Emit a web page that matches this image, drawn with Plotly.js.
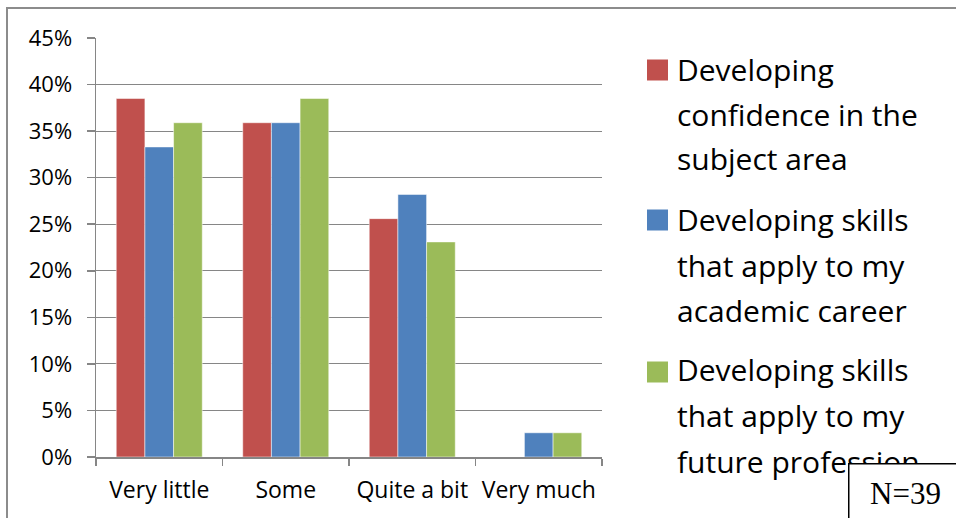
<!DOCTYPE html>
<html>
<head>
<meta charset="utf-8">
<script src="https://cdn.plot.ly/plotly-3.0.1.min.js"></script>
<style>
html,body{margin:0;padding:0;background:#fff;}
#chart{width:956px;height:518px;}
</style>
</head>
<body>
<div id="chart"></div>
<script>
// Data (N=39)
const categories = ["Very little", "Some", "Quite a bit", "Very much"];
const seriesNames = [
  ["Developing", "confidence in the", "subject area"],
  ["Developing skills", "that apply to my", "academic career"],
  ["Developing skills", "that apply to my", "future profession"]
];
const confidence = [0.385, 0.359, 0.256, 0];
const academic = [0.333, 0.359, 0.282, 0.026];
const profession = [0.359, 0.385, 0.231, 0.026];
const yTickVals = [0, 0.05, 0.10, 0.15, 0.20, 0.25, 0.30, 0.35, 0.40, 0.45];
const noteText = "N=39";

const colors = ["#C0504D", "#4F81BD", "#9BBB59"];
const seriesValues = [confidence, academic, profession];

// pixel helpers (plot area 96..602 x 38..457)
const L = 96, R = 602, T = 38, B = 457;
const px = x => (x - L) / (R - L);
const py = y => (B - y) / (B - T);

const traces = seriesValues.map((vals, i) => ({
  type: "bar",
  x: categories,
  y: vals,
  name: seriesNames[i].join(" "),
  marker: {color: colors[i], line: {color: "rgba(255,255,255,0.5)", width: 1}},
  hoverinfo: "x+y"
}));

const font = "'Open Sans', 'Noto Sans', sans-serif";
const shapes = [];
const annotations = [];

// outer frame
shapes.push({type: "rect", xref: "paper", yref: "paper",
  x0: px(7), x1: px(990), y0: py(560), y1: py(8),
  line: {color: "#8c8c8c", width: 2}, fillcolor: "rgba(0,0,0,0)", layer: "below"});

// custom legend
const legendRows = [[69, 114, 158], [219, 265, 310], [369, 415, 461]];
const squareCenters = [70, 220, 372];
legendRows.forEach((rows, i) => {
  const sc = squareCenters[i];
  shapes.push({type: "rect", xref: "paper", yref: "paper",
    x0: px(647), x1: px(668), y0: py(sc + 10.5), y1: py(sc - 10.5),
    line: {width: 0}, fillcolor: colors[i]});
  seriesNames[i].forEach((line, j) => {
    annotations.push({xref: "paper", yref: "paper", x: px(675), y: py(rows[j]),
      xanchor: "left", yanchor: "middle", showarrow: false, text: line,
      font: {family: font, size: 30, color: "#000"}});
  });
});

// N=39 note box
annotations.push({xref: "paper", yref: "paper", x: px(848), y: py(463),
  xanchor: "left", yanchor: "top", showarrow: false, text: noteText,
  width: 112, height: 58, align: "center", valign: "middle",
  bgcolor: "#fff", bordercolor: "#000", borderwidth: 1.5, borderpad: 0,
  font: {family: "'Liberation Serif', 'Times New Roman', serif", size: 31, color: "#000"}});

const layout = {
  width: 956, height: 518,
  margin: {l: L, r: 956 - R, t: T, b: 518 - B, pad: 0},
  paper_bgcolor: "#fff", plot_bgcolor: "#fff",
  showlegend: false,
  barmode: "group", bargap: 0.32, bargroupgap: 0,
  font: {family: font, size: 20, color: "#000"},
  xaxis: {
    tickson: "boundaries", ticks: "outside", ticklen: 7, tickcolor: "#868686", tickwidth: 1.5,
    showline: true, linecolor: "#868686", linewidth: 1.5, tickangle: 0,
    showgrid: false, tickfont: {size: 23}, ticklabelstandoff: 12, fixedrange: true
  },
  yaxis: {
    range: [0, 0.45], tickvals: yTickVals, tickformat: ".0%",
    ticks: "outside", ticklen: 8, tickcolor: "#868686", tickwidth: 1.5,
    showline: true, linecolor: "#868686", linewidth: 1.5,
    showgrid: true, gridcolor: "#868686", gridwidth: 1.2,
    zeroline: false, tickfont: {size: 22}, ticklabelstandoff: 10, fixedrange: true
  },
  shapes: shapes,
  annotations: annotations
};

Plotly.newPlot("chart", traces, layout, {displayModeBar: false, staticPlot: true});
</script>
</body>
</html>
